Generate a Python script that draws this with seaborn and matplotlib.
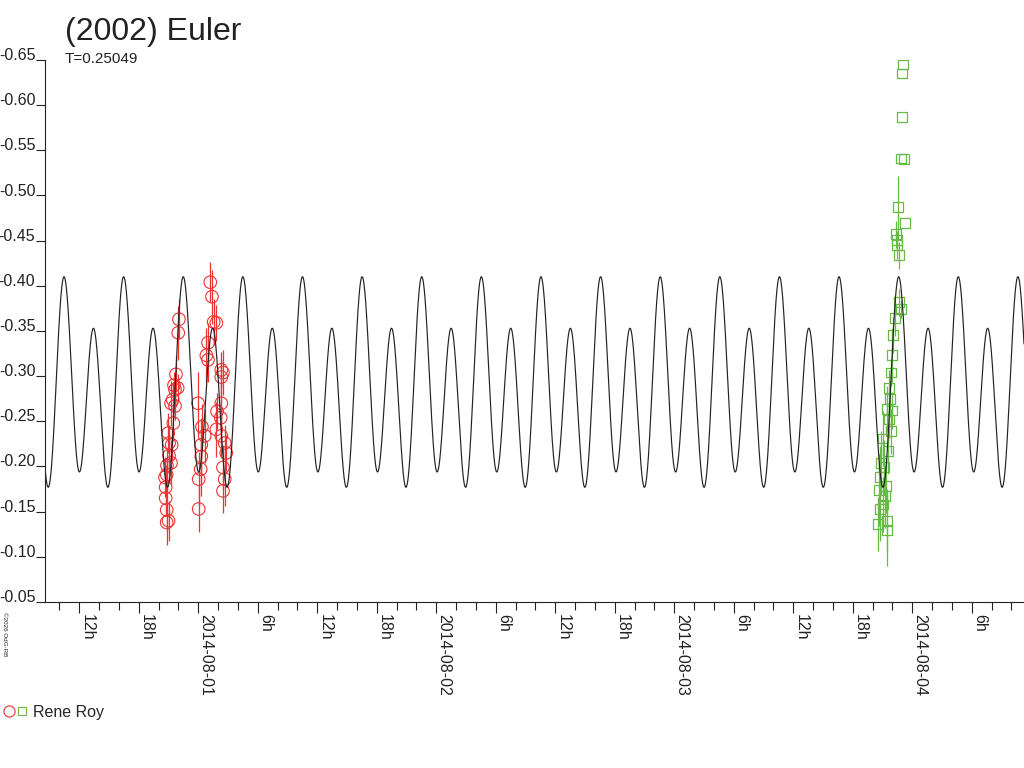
import numpy as np
import pandas as pd
import matplotlib
matplotlib.use("Agg")
import matplotlib.pyplot as plt
from matplotlib.lines import Line2D
from matplotlib.legend_handler import HandlerTuple
import seaborn as sns

# ---------------- data ----------------
# time in hours relative to 2014-08-01 00:00 UT, values in magnitudes
red_t = [-1.95, -2.02, -2.25, -2.08, -2.35, -2.58, -2.75, -2.35, -2.52, -3.03,
         -2.95, -2.68, -2.75, -3.19, -3.36, -3.29, -3.29, -3.19, -3.19, -3.00,
         -2.45, -2.95, -3.16,
         1.21, 1.38, 1.55, 1.82, 0.98, 0.81, 0.98, 2.32, 2.49, 2.32,
         -0.03, 2.32, 2.26, 1.82, 0.37, 0.65, 0.30, 2.32, 2.66, 2.82,
         0.30, 0.24, 2.49, 2.66, 0.04, 2.49, 0.04, 1.89]
red_m = [-0.363, -0.348, -0.302, -0.287, -0.285, -0.274, -0.270, -0.267, -0.248, -0.237,
         -0.226, -0.224, -0.204, -0.191, -0.188, -0.177, -0.165, -0.152, -0.138, -0.140,
         -0.290, -0.212, -0.201,
         -0.404, -0.388, -0.360, -0.359, -0.337, -0.323, -0.318, -0.307, -0.304, -0.299,
         -0.270, -0.270, -0.254, -0.241, -0.244, -0.234, -0.224, -0.234, -0.226, -0.215,
         -0.211, -0.197, -0.199, -0.186, -0.186, -0.173, -0.153, -0.261]
red_e = [0.022, 0.030, 0.020, 0.015, 0.018, 0.020, 0.025, 0.015, 0.020, 0.022,
         0.020, 0.018, 0.025, 0.020, 0.022, 0.025, 0.020, 0.025, 0.025, 0.022,
         0.015, 0.020, 0.020,
         0.022, 0.030, 0.025, 0.020, 0.022, 0.030, 0.025, 0.020, 0.025, 0.020,
         0.035, 0.025, 0.025, 0.030, 0.025, 0.030, 0.030, 0.025, 0.020, 0.020,
         0.030, 0.030, 0.025, 0.030, 0.030, 0.025, 0.025, 0.020]

green_t = [71.03, 70.93, 70.93, 70.83, 71.16, 70.56, 71.23, 70.35, 70.42, 70.69,
           70.45, 70.69, 70.86, 70.29, 69.96, 69.86, 69.62, 69.75, 69.42, 69.92,
           69.82, 69.01, 69.58, 68.81, 69.15, 68.74, 69.35, 68.67, 68.74, 68.57,
           69.42, 69.48, 69.02, 69.22, 69.65, 70.06]
green_m = [-0.645, -0.635, -0.587, -0.541, -0.540, -0.487, -0.470, -0.457, -0.445, -0.434,
           -0.451, -0.382, -0.374, -0.364, -0.323, -0.304, -0.287, -0.275, -0.264, -0.262,
           -0.239, -0.231, -0.217, -0.204, -0.199, -0.188, -0.178, -0.174, -0.153, -0.136,
           -0.140, -0.130, -0.158, -0.167, -0.252, -0.346]
green_e = [0.000, 0.000, 0.000, 0.000, 0.000, 0.035, 0.000, 0.015, 0.015, 0.015,
           0.010, 0.015, 0.010, 0.020, 0.030, 0.015, 0.020, 0.020, 0.025, 0.020,
           0.025, 0.030, 0.025, 0.035, 0.030, 0.035, 0.030, 0.040, 0.035, 0.030,
           0.035, 0.040, 0.030, 0.035, 0.020, 0.020]

# Fourier lightcurve model (period T = 0.25049 d)
period_h = 0.25049 * 24.0
epoch_h = -13.56          # time of the higher maximum
mean_mag = -0.284
cos1, sin1, cos2 = -0.0285, -0.0085, -0.0975

tick_pos = list(range(-12, 79, 6))
tick_lab = ["12h", "18h", "2014-08-01", "6h", "12h", "18h", "2014-08-02", "6h",
            "12h", "18h", "2014-08-03", "6h", "12h", "18h", "2014-08-04", "6h"]
minor_pos = list(range(-14, 83, 2))
y_ticks = [-0.65, -0.60, -0.55, -0.50, -0.45, -0.40, -0.35, -0.30, -0.25,
           -0.20, -0.15, -0.10, -0.05]

# ---------------- style ----------------
sns.set_style("ticks")
plt.rcParams["font.family"] = ["Liberation Sans", "DejaVu Sans"]

RED = "#ee3333"
GREEN = "#66bb44"
BLACK = "#222222"

fig = plt.figure(figsize=(10.24, 7.68), dpi=100)
W, H = 1024, 768
ax = fig.add_axes([45 / W, 1 - 602 / H, (W - 45) / W, (602 - 60) / H])

x_left = (45 - 198.3) / 9.917
x_right = (1024 - 198.3) / 9.917

tt = np.linspace(x_left, x_right, 6000)
ph = 2 * np.pi * (tt - epoch_h) / period_h
model = mean_mag + cos1 * np.cos(ph) + sin1 * np.sin(ph) + cos2 * np.cos(2 * ph)
curve = pd.DataFrame({"t": tt, "m": model})

red = pd.DataFrame({"t": red_t, "m": red_m, "e": red_e})
green = pd.DataFrame({"t": green_t, "m": green_m, "e": green_e})

ax.errorbar(red["t"], red["m"], yerr=red["e"], fmt="none", ecolor=RED,
            elinewidth=0.9, capsize=0, zorder=2)
ax.errorbar(green["t"], green["m"], yerr=green["e"], fmt="none", ecolor=GREEN,
            elinewidth=0.9, capsize=0, zorder=2)
sns.scatterplot(data=red, x="t", y="m", marker="o", s=82, facecolor="none",
                edgecolor=RED, linewidth=0.8, ax=ax, zorder=3, legend=False)
sns.scatterplot(data=green, x="t", y="m", marker="s", s=50, facecolor="none",
                edgecolor=GREEN, linewidth=0.9, ax=ax, zorder=3, legend=False)
sns.lineplot(data=curve, x="t", y="m", color=BLACK, linewidth=0.85, ax=ax,
             zorder=4, sort=False, estimator=None)

ax.set_xlim(x_left, x_right)
ax.set_ylim(-0.05, -0.65)
ax.set_xlabel("")
ax.set_ylabel("")

ax.set_yticks(y_ticks)
ax.set_yticklabels([f"{v:.2f}" for v in y_ticks], fontsize=11.5, va="baseline")
ax.tick_params(axis="y", length=6.5, width=0.8, pad=0.5, colors="#222222")

ax.set_xticks(tick_pos)
ax.set_xticks(minor_pos, minor=True)
ax.set_xticklabels(tick_lab, rotation=-90, ha="left", va="top", fontsize=11.5)
ax.tick_params(axis="x", which="major", length=8, width=0.8, pad=1, colors="#222222")
ax.tick_params(axis="x", which="minor", length=5.8, width=0.8, colors="#222222")

for s in ["top", "right"]:
    ax.spines[s].set_visible(False)
for s in ["left", "bottom"]:
    ax.spines[s].set_linewidth(0.8)
    ax.spines[s].set_color("#222222")
ax.grid(False)

fig.text(65 / W, 1 - 40 / H, "(2002) Euler", fontsize=23, va="baseline", ha="left",
         color="#222222")
fig.text(65 / W, 1 - 63 / H, "T=0.25049", fontsize=11, va="baseline", ha="left",
         color="#222222")
fig.text(2 / W, 1 - 612 / H, "\u00a92026 OdG-RB", fontsize=4.5, rotation=-90,
         va="top", ha="left", color="#222222")

h_red = Line2D([], [], marker="o", linestyle="none", markersize=8,
               markerfacecolor="none", markeredgecolor=RED, markeredgewidth=0.8)
h_green = Line2D([], [], marker="s", linestyle="none", markersize=6,
                 markerfacecolor="none", markeredgecolor=GREEN, markeredgewidth=0.8)
fig.legend(handles=[(h_red, h_green)], labels=["Rene Roy"],
           handler_map={tuple: HandlerTuple(ndivide=None, pad=0.1)},
           loc="center left", bbox_to_anchor=(0.0, 1 - 712 / H), frameon=False,
           handlelength=1.5, handletextpad=0.35, borderaxespad=0, borderpad=0.2,
           prop={"size": 11.5})

fig.savefig("out.png", dpi=100, facecolor="white")
